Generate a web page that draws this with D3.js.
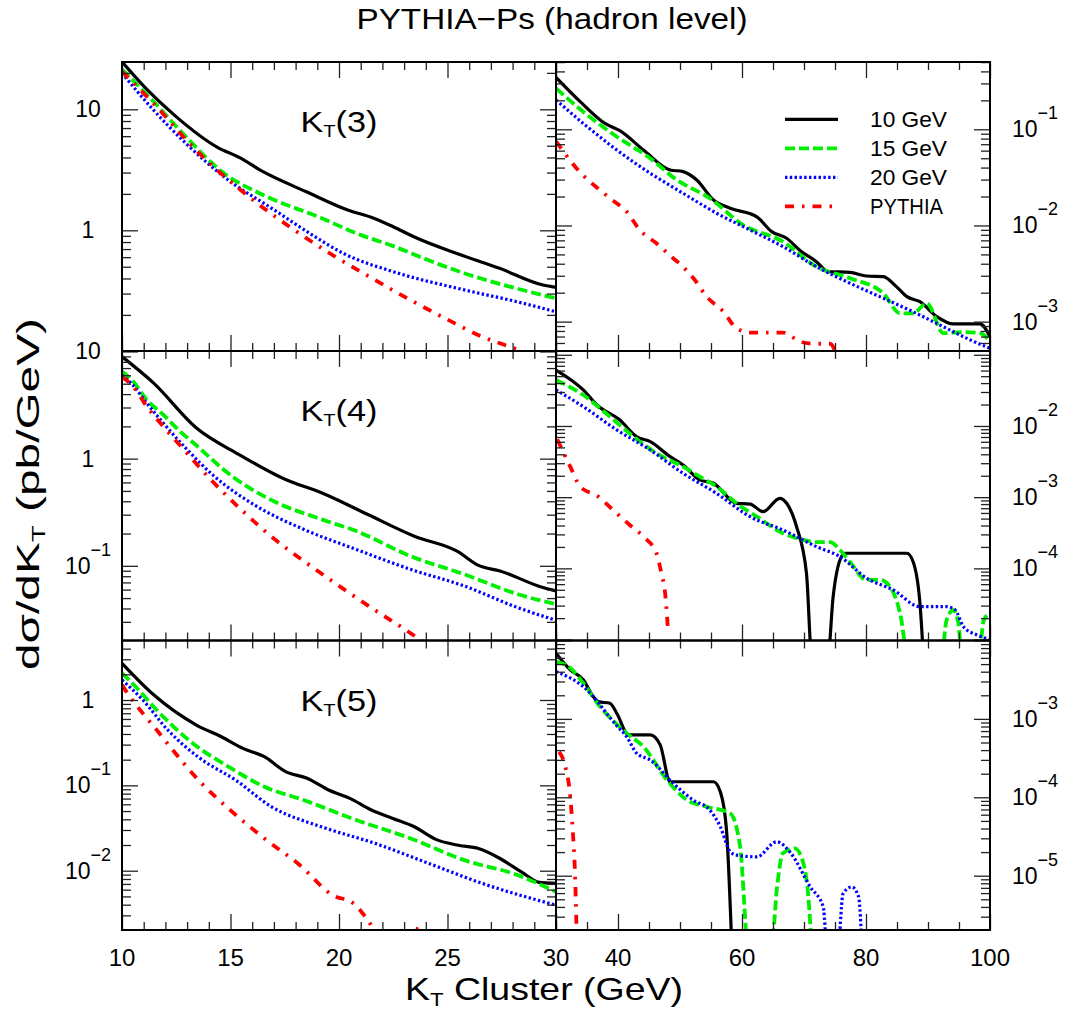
<!DOCTYPE html>
<html>
<head>
<meta charset="utf-8">
<script src="https://cdnjs.cloudflare.com/ajax/libs/d3/7.8.5/d3.min.js"></script>
<style>
  body { margin: 0; background: #fff; }
  svg text { font-family: "Liberation Sans", Arial, sans-serif; fill: #000; }
</style>
</head>
<body>
<svg id="chart" width="1065" height="1011"></svg>
<script>
// ---- data: [K_T (GeV), dsigma/dK_T (pb/GeV)] ----
var seriesNames = ["10 GeV", "15 GeV", "20 GeV", "PYTHIA"];

// K_T(3), 10-30 GeV
var k3L_10 = [[10,24.7],[11.1,14.9],[12.4,9.0],[14.4,4.85],[15.4,4.0],[16.5,3.05],[18.5,2.08],[20.4,1.47],[21.6,1.26],[22.5,1.07],[23.5,0.875],[25.4,0.645],[27.4,0.485],[29.4,0.353],[30,0.338]];
var k3L_15 = [[10,21.4],[11.45,11.6],[12.94,5.94],[14.7,2.96],[16.5,1.96],[19.2,1.26],[20.8,0.944],[22.5,0.74],[24.1,0.568],[25.8,0.44],[28.2,0.33],[30,0.274]];
var k3L_20 = [[10,19.9],[11.45,9.87],[12.94,5.24],[14.9,2.6],[16.9,1.52],[18.9,0.885],[20.2,0.645],[22.5,0.455],[25.8,0.321],[28.2,0.257],[30,0.212]];
var k3L_py = [[10,20.5],[11.45,11.2],[13.26,4.9],[15.57,2.08],[17.96,1.0],[19.7,0.625],[21.4,0.414],[23.15,0.274],[24.9,0.187],[26.6,0.132],[28.2,0.104],[30,0.078]];
// K_T(3), 30-100 GeV
var k3R_10 = [[30,0.347],[33.9,0.194],[37.9,0.115],[40.3,0.0967],[44.1,0.061],[48.4,0.0378],[50.5,0.0363],[52.7,0.0297],[55.4,0.0184],[58.1,0.0151],[62.4,0.0123],[64.8,0.00862],[67.2,0.00736],[69.4,0.00547],[72,0.0042],[73.9,0.00331],[77.4,0.00326],[80.1,0.00298],[82.8,0.00294],[84.9,0.00231],[86.6,0.00182],[88.7,0.00161],[91.4,0.00113],[94.1,0.000946],[98.4,0.000946],[100,0.000698]];
var k3R_15 = [[30,0.267],[34.4,0.152],[39.8,0.0838],[45.2,0.0499],[49.5,0.0297],[54.8,0.0192],[60.2,0.0101],[66.6,0.00679],[72,0.00373],[77.4,0.00283],[82.8,0.00197],[85.5,0.00122],[87.6,0.00122],[89.8,0.00155],[92.5,0.000758],[95.7,0.00078],[98.4,0.000758],[100,0.00062]];
var k3R_20 = [[30,0.202],[34.4,0.115],[39.8,0.061],[45.2,0.0349],[50.5,0.0216],[55.9,0.0134],[61.3,0.00898],[66.6,0.00603],[72,0.00373],[77.4,0.00251],[82.8,0.00175],[88.1,0.00122],[93.5,0.00082],[96.8,0.000646],[100,0.000528]];
var k3R_py = [[30,0.075],[33.3,0.0394],[38.7,0.0192],[41.4,0.0139],[43.5,0.00898],[46.2,0.00653],[48.9,0.00456],[50,0.00398],[52.4,0.00271],[54.3,0.00182],[57,0.00127],[59.1,0.000853],[61.3,0.000769],[66.6,0.000769],[69.4,0.00062],[71.5,0.000589],[74.2,0.000589],[75.5,0.0004]];

// K_T(4), 10-30 GeV
var k4L_10 = [[10,8.95],[11.46,5.06],[13.43,1.93],[15.4,1.09],[17.54,0.638],[19.19,0.48],[21.33,0.301],[23.47,0.189],[25.44,0.137],[26.43,0.101],[27.42,0.0895],[29.4,0.0627],[30,0.0583]];
var k4L_15 = [[10,6.5],[10.52,5.24],[11.14,3.54],[11.9,2.57],[12.67,1.8],[13.3,1.4],[15.07,0.685],[16.89,0.41],[19.2,0.271],[20.8,0.211],[23.3,0.123],[25.77,0.0834],[28.24,0.0543],[30,0.0438]];
var k4L_20 = [[10,6.0],[10.52,4.8],[11.14,3.3],[11.9,2.15],[12.94,1.25],[14.25,0.685],[16.2,0.36],[18.37,0.219],[20.8,0.142],[23.3,0.0927],[25.77,0.0649],[28.2,0.041],[30,0.031]];
var k4L_py = [[10,5.8],[10.52,4.7],[11.14,3.07],[11.9,2.0],[12.78,1.26],[14.09,0.638],[15.57,0.323],[17.05,0.176],[18.7,0.0995],[20.34,0.0583],[22.07,0.0341],[22.8,0.0275],[23.8,0.02],[24.5,0.016]];
// K_T(4), 30-100 GeV
var k4R_10 = [[30,0.0611],[34.4,0.0321],[36.6,0.0197],[40.3,0.0121],[43,0.00708],[45.2,0.00602],[48.4,0.00371],[50.5,0.00283],[53.2,0.00175],[55.4,0.00157],[59.1,0.00082],[61.3,0.0008],[63.4,0.000625],[66.1,0.000963],[67.2,0.00082],[68.8,0.000385],[70.4,0.000085],[71.3,0.000005],[73.8,0.000005],[74.7,0.00004],[75.8,0.000131],[76.6,0.000163],[86.6,0.000163],[87.6,0.000124],[88.7,0.0000324],[89.3,0.000005]];
var k4R_15 = [[30,0.0442],[34.4,0.0272],[38.7,0.0135],[42.5,0.00708],[46.2,0.00413],[50.5,0.00268],[53.2,0.00194],[55.9,0.00141],[59.1,0.00082],[62.4,0.000532],[66.6,0.000311],[69.9,0.000251],[72,0.000233],[74.2,0.000233],[75.8,0.000181],[77.4,0.000124],[80.1,0.0000687],[82.3,0.0000687],[83.9,0.000055],[85.5,0.0000234],[86.9,0.000005],[92.1,0.000005],[93,0.0000188],[94.1,0.000026],[94.9,0.000017],[95.5,0.000005],[98.1,0.000005],[99,0.0000188],[100,0.0000234]];
var k4R_20 = [[30,0.0321],[34.4,0.0187],[39.8,0.00879],[45.2,0.0046],[50.5,0.00216],[55.9,0.00113],[61.3,0.000532],[66.6,0.000346],[72,0.000202],[75.8,0.000146],[80.1,0.0000726],[84.4,0.0000498],[88.7,0.000029],[93,0.000029],[94.4,0.000026],[95.7,0.0000152],[97.9,0.0000116],[100,0.00001]];
var k4R_py = [[30.2,0.0065],[32.3,0.00268],[33.9,0.00141],[36.8,0.00102],[39.2,0.00066],[41.9,0.000407],[44.1,0.000279],[46.2,0.000163],[47,0.0000853],[47.6,0.0000447],[48.1,0.0000122]];

// K_T(5), 10-30 GeV
var k5L_10 = [[10,2.69],[11.46,1.15],[13.43,0.509],[14.58,0.371],[15.57,0.271],[16.56,0.217],[17.54,0.145],[18.53,0.121],[19.52,0.0881],[20.5,0.0704],[21.49,0.0514],[22.48,0.041],[23.47,0.0327],[24.46,0.0233],[25.44,0.02],[26.43,0.0182],[27.42,0.0139],[28.4,0.0097],[29.23,0.0073],[30,0.0071]];
var k5L_15 = [[10,2.06],[10.63,1.43],[11.6,0.763],[13.27,0.31],[14.91,0.165],[16.56,0.0964],[18.37,0.0673],[20.8,0.0392],[23.3,0.0239],[25.77,0.0133],[28.24,0.00888],[30,0.00566]];
var k5L_20 = [[10,1.72],[10.96,1.0],[12.11,0.445],[13.6,0.207],[15.24,0.115],[16.89,0.0561],[19.19,0.0327],[21.66,0.0209],[24.13,0.0122],[26.6,0.0071],[30,0.00395]];
var k5L_py = [[10,1.5],[10.3,1.15],[10.96,0.698],[11.6,0.445],[12.28,0.271],[13.6,0.11],[15.08,0.049],[16.56,0.0239],[18.2,0.0116],[19.7,0.00518],[20.67,0.00414],[21.33,0.00264],[21.8,0.0018],[23,0.0017],[23.5,0.0021],[24.3,0.0012]];
// K_T(5), 30-100 GeV
var k5R_10 = [[30,0.0069],[32.3,0.00423],[34.4,0.00315],[36,0.00193],[36.8,0.00166],[38.7,0.00158],[39.8,0.00118],[41.7,0.000625],[45.2,0.000625],[46.8,0.000466],[48.4,0.000158],[55.4,0.000158],[56.5,0.000118],[57.5,0.0000382],[58.4,0.000001]];
var k5R_15 = [[30,0.0054],[32.3,0.00445],[34.4,0.00286],[37.1,0.00144],[41.4,0.000656],[44.1,0.000443],[47.9,0.000166],[51.1,0.0000924],[54.3,0.0000759],[58.1,0.0000625],[59.7,0.0000234],[61.1,0.000001],[64.7,0.000001],[65.6,0.0000065],[66.6,0.0000193],[68.5,0.0000223],[69.9,0.0000144],[70.7,0.0000054],[71.3,0.000001]];
var k5R_20 = [[30,0.00402],[34.4,0.00258],[39.8,0.00082],[41.4,0.000594],[43,0.000365],[45.2,0.000299],[48.9,0.000151],[52.1,0.0000924],[54.8,0.0000689],[56.5,0.0000422],[58.1,0.0000202],[59.1,0.0000183],[62.4,0.0000174],[65.6,0.0000271],[67.7,0.0000202],[71,0.0000072],[73.1,0.000004],[73.8,0.000001],[75.4,0.000001],[76.3,0.0000059],[77.7,0.0000072],[78.8,0.0000054],[79.4,0.000001]];
var k5R_py = [[30.5,0.00038],[31.5,0.000246],[32.3,0.000102],[32.7,0.000038],[33.1,0.0000088],[33.4,0.000001]];

// axis labels
var xTickLeft = [10, 15, 20, 25, 30];
var xTickRight = [40, 60, 80, 100];
var yLabelLeft = [[10, 1], [10, 1, 0.1], [1, 0.1, 0.01]];
var yLabelRight = [[0.1, 0.01, 0.001], [0.01, 0.001, 1e-4], [1e-3, 1e-4, 1e-5]];
var panelTags = ["3", "4", "5"];

// ---- layout ----
var svg = d3.select('#chart');
var colX = [[122, 556], [556, 990]];
var rowY = [[62, 351], [351, 640.5], [640.5, 930]];
var xDom = [[10, 30], [30, 100]];
var xMinorStep = [1, 5];
var yDom = [
  [[0.1006, 24.6], [4.95e-4, 0.501]],
  [[0.0201, 10.1], [9.7e-6, 0.113]],
  [[2.02e-3, 4.98], [2.03e-6, 0.01]]
];
var curves = [
  [[k3L_10, k3L_15, k3L_20, k3L_py], [k3R_10, k3R_15, k3R_20, k3R_py]],
  [[k4L_10, k4L_15, k4L_20, k4L_py], [k4R_10, k4R_15, k4R_20, k4R_py]],
  [[k5L_10, k5L_15, k5L_20, k5L_py], [k5R_10, k5R_15, k5R_20, k5R_py]]
];
var styles = [
  { color: '#000000', width: 3.2, dash: null },
  { color: '#00ee00', width: 3.8, dash: '10,4' },
  { color: '#0000ff', width: 3.2, dash: '2.4,2.4' },
  { color: '#ff0000', width: 3.8, dash: '9,8,2.5,8' }
];

function styleTicks(g) {
  g.select('.domain').remove();
  g.selectAll('text').remove();
  g.selectAll('line').attr('stroke', '#222').attr('stroke-width', 1.3);
}

function logTicks(dom) {
  var lo = Math.floor(Math.log10(dom[0])), hi = Math.ceil(Math.log10(dom[1]));
  var major = [], minor = [];
  for (var e = lo; e <= hi; e++) {
    var d = Math.pow(10, e);
    if (d >= dom[0] * 0.999 && d <= dom[1] * 1.001) major.push(d);
    for (var k = 2; k <= 9; k++) {
      var v = k * d;
      if (v > dom[0] && v < dom[1]) minor.push(v);
    }
  }
  return { major: major, minor: minor };
}

// power-of-ten label: "10", "1" or 10 with superscript
function powLabel(g, x, y, v) {
  var e = Math.round(Math.log10(v));
  var t = g.append('text').attr('x', x).attr('y', y + 8)
    .attr('text-anchor', 'middle').style('font-size', '23px');
  if (e >= 0) {
    t.text(String(Math.pow(10, e)));
  } else {
    t.append('tspan').text('10');
    t.append('tspan').attr('dy', -18).style('font-size', '18px').text('\u2212' + (-e));
  }
}

var line = d3.line().curve(d3.curveMonotoneX);

for (var r = 0; r < 3; r++) {
  for (var c = 0; c < 2; c++) {
    var x = d3.scaleLinear().domain(xDom[c]).range(colX[c]);
    var y = d3.scaleLog().domain(yDom[r][c]).range([rowY[r][1], rowY[r][0]]);
    var g = svg.append('g');
    var clipId = 'clip' + r + c;
    g.append('clipPath').attr('id', clipId).append('rect')
      .attr('x', colX[c][0]).attr('y', rowY[r][0])
      .attr('width', colX[c][1] - colX[c][0]).attr('height', rowY[r][1] - rowY[r][0]);

    // curves
    var cg = g.append('g').attr('clip-path', 'url(#' + clipId + ')');
    curves[r][c].forEach(function(s, i) {
      line.x(function(d) { return x(d[0]); }).y(function(d) { return y(d[1]); });
      cg.append('path').attr('d', line(s))
        .attr('fill', 'none')
        .attr('stroke', styles[i].color)
        .attr('stroke-width', styles[i].width)
        .attr('stroke-dasharray', styles[i].dash)
        .attr('stroke-linejoin', 'round');
    });

    // ticks on all four sides, pointing in
    var xMaj = c === 0 ? d3.range(10, 31, 5) : [40, 60, 80, 100];
    var xMin = d3.range(xDom[c][0], xDom[c][1] + 0.01, xMinorStep[c]).filter(function(v) { return xMaj.indexOf(v) < 0; });
    var yt = logTicks(yDom[r][c]);
    [['axisTop', rowY[r][0]], ['axisBottom', rowY[r][1]]].forEach(function(a) {
      g.append('g').attr('transform', 'translate(0,' + a[1] + ')')
        .call(d3[a[0]](x).tickValues(xMaj).tickSize(-16)).call(styleTicks);
      g.append('g').attr('transform', 'translate(0,' + a[1] + ')')
        .call(d3[a[0]](x).tickValues(xMin).tickSize(-8)).call(styleTicks);
    });
    [['axisLeft', colX[c][0]], ['axisRight', colX[c][1]]].forEach(function(a) {
      g.append('g').attr('transform', 'translate(' + a[1] + ',0)')
        .call(d3[a[0]](y).tickValues(yt.major).tickSize(-16)).call(styleTicks);
      g.append('g').attr('transform', 'translate(' + a[1] + ',0)')
        .call(d3[a[0]](y).tickValues(yt.minor).tickSize(-9)).call(styleTicks);
    });

    // frame
    g.append('rect')
      .attr('x', colX[c][0]).attr('y', rowY[r][0])
      .attr('width', colX[c][1] - colX[c][0]).attr('height', rowY[r][1] - rowY[r][0])
      .attr('fill', 'none').attr('stroke', '#000').attr('stroke-width', 2);

    // y labels
    var labs = c === 0 ? yLabelLeft[r] : yLabelRight[r];
    labs.forEach(function(v) { powLabel(svg, c === 0 ? 88 : 1035, y(v), v); });

    // panel tag K_T(n)
    if (c === 0) {
      var tag = svg.append('text').attr('x', (colX[0][0] + colX[0][1]) / 2).attr('y', rowY[r][0] + 70)
        .attr('text-anchor', 'middle').style('font-size', '29px')
        .attr('textLength', 77).attr('lengthAdjust', 'spacingAndGlyphs');
      tag.append('tspan').text('K');
      tag.append('tspan').attr('dy', 5).style('font-size', '17px').text('T');
      tag.append('tspan').attr('dy', -5).text('(' + panelTags[r] + ')');
    }
  }
}

// x tick labels
var xl = d3.scaleLinear().domain(xDom[0]).range(colX[0]);
var xr = d3.scaleLinear().domain(xDom[1]).range(colX[1]);
xTickLeft.forEach(function(v) {
  svg.append('text').attr('x', xl(v)).attr('y', 966).attr('text-anchor', 'middle')
    .style('font-size', '24px').text(v);
});
xTickRight.forEach(function(v) {
  svg.append('text').attr('x', xr(v)).attr('y', 966).attr('text-anchor', 'middle')
    .style('font-size', '24px').text(v);
});

// legend (top right panel)
seriesNames.forEach(function(name, i) {
  var ly = 119.3 + i * 29;
  svg.append('line').attr('x1', 785).attr('x2', 838).attr('y1', ly).attr('y2', ly)
    .attr('stroke', styles[i].color).attr('stroke-width', styles[i].width)
    .attr('stroke-dasharray', styles[i].dash);
  svg.append('text').attr('x', 870).attr('y', ly + 8).style('font-size', '22px')
    .attr('textLength', i === 3 ? 73 : 77).attr('lengthAdjust', 'spacingAndGlyphs')
    .text(name);
});

// titles
svg.append('text').attr('x', 552).attr('y', 29).attr('text-anchor', 'middle')
  .style('font-size', '29px').attr('textLength', 391).attr('lengthAdjust', 'spacingAndGlyphs')
  .text('PYTHIA\u2212Ps (hadron level)');

var xt = svg.append('text').attr('x', 544).attr('y', 1000).attr('text-anchor', 'middle')
  .style('font-size', '32px').attr('textLength', 278).attr('lengthAdjust', 'spacingAndGlyphs');
xt.append('tspan').text('K');
xt.append('tspan').attr('dy', 6).style('font-size', '19px').text('T');
xt.append('tspan').attr('dy', -6).text(' Cluster (GeV)');

var yt2 = svg.append('text').attr('transform', 'translate(39,494) rotate(-90)')
  .attr('text-anchor', 'middle').style('font-size', '31px')
  .attr('textLength', 352).attr('lengthAdjust', 'spacingAndGlyphs');
yt2.append('tspan').text('d\u03c3/dK');
yt2.append('tspan').attr('dy', 6).style('font-size', '18px').text('T');
yt2.append('tspan').attr('dy', -6).text(' (pb/GeV)');
</script>
</body>
</html>
